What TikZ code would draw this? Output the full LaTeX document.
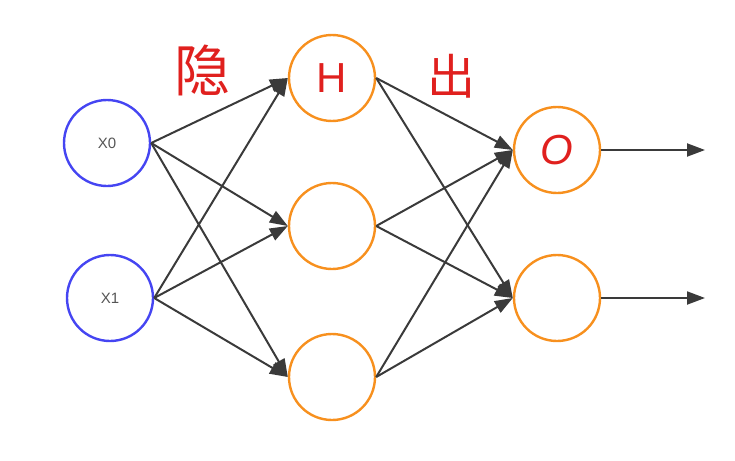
\documentclass[tikz,border=0pt]{standalone}
\usepackage{fontspec}
\setmainfont{Liberation Sans}
\newfontfamily\cjk{Noto Sans CJK SC}
\usetikzlibrary{arrows.meta}
\definecolor{inblue}{HTML}{4545F2}
\definecolor{hidorange}{HTML}{F7901E}
\definecolor{hred}{HTML}{E0201E}
\definecolor{edgegray}{HTML}{3A3A3A}
\definecolor{txtgray}{HTML}{555555}
\begin{document}
\begin{tikzpicture}[x=1pt,y=-1pt,
  neuron/.style={circle,draw,line width=2.4pt,minimum size=86pt,inner sep=0pt},
  innode/.style={neuron,draw=inblue,text=txtgray,font=\fontsize{15}{15}\selectfont},
  hidnode/.style={neuron,draw=hidorange,text=hred,font=\fontsize{42}{42}\selectfont},
  conn/.style={draw=edgegray,line width=2pt,arrows={-Triangle[length=18pt,width=13pt]}},
  hand/.style={text=hred,inner sep=0pt}]
\useasboundingbox (0,0) rectangle (735,460);
\node[innode] (x0) at (107,143) {X0};
\node[innode] (x1) at (110,298) {X1};
\node[hidnode] (h1) at (332,78) {H};
\node[hidnode] (h2) at (332,226) {};
\node[hidnode] (h3) at (332,377) {};
\node[hidnode] (o1) at (557,150) {\itshape O};
\node[hidnode] (o2) at (557,298) {};
\coordinate (e1) at (705,150);
\coordinate (e2) at (705,298);
\node[hand,font=\cjk\fontsize{56}{56}\selectfont] (t1) at (202,70) {隐};
\node[hand,font=\cjk\fontsize{48}{48}\selectfont] (t2) at (451,76) {出};
\foreach \s in {x0,x1}{
  \foreach \t in {h1,h2,h3}{
    \draw[conn] (\s.east) -- (\t.west);
  }
}
\foreach \s in {h1,h2,h3}{
  \foreach \t in {o1,o2}{
    \draw[conn] (\s.east) -- (\t.west);
  }
}
\draw[conn] (o1.east) -- (e1);
\draw[conn] (o2.east) -- (e2);
\end{tikzpicture}
\end{document}
